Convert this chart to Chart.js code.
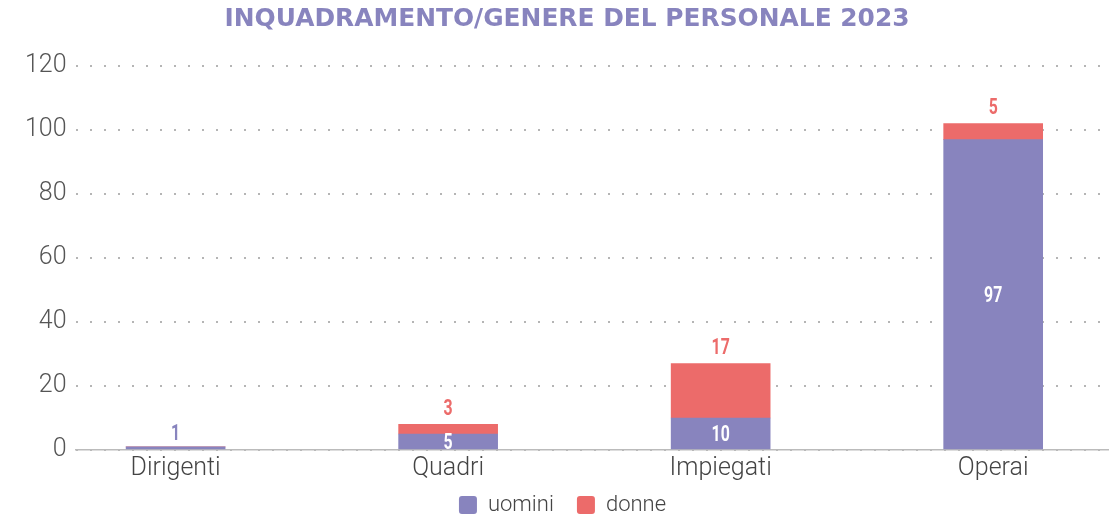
<!DOCTYPE html>
<html>
<head>
<meta charset="utf-8">
<script src="https://cdn.jsdelivr.net/npm/chart.js@4.4.1/dist/chart.umd.min.js"></script>
<style>
  body { margin: 0; background: #fff; }
  #wrap { width: 1109px; height: 514px; }
</style>
</head>
<body>
<div id="wrap"><canvas id="chart"></canvas></div>
<script>
// Inquadramento / genere del personale 2023
const titleText = 'INQUADRAMENTO/GENERE DEL PERSONALE 2023';
const categories = ['Dirigenti', 'Quadri', 'Impiegati', 'Operai'];
const uomini = [1, 5, 10, 97];
const donne = [0, 3, 17, 5];
const yMax = 120;
const yStep = 20;

const purple = '#8884BE';
const red = '#EC6B6A';

// draws the title (blocky, stretched to the width of the original)
const titlePlugin = {
    id: 'bigTitle',
    afterDraw(chart) {
        const ctx = chart.ctx;
        ctx.save();
        ctx.font = 'bold 24px "DejaVu Sans", sans-serif';
        ctx.fillStyle = purple;
        ctx.textAlign = 'center';
        ctx.textBaseline = 'middle';
        const w = ctx.measureText(titleText).width;
        ctx.translate(567, 20);
        ctx.scale(685 / w, 1);
        ctx.fillText(titleText, 0, 0);
        ctx.restore();
    }
};

// value labels on the bars (narrow bold digits)
const valuePlugin = {
    id: 'values',
    afterDatasetsDraw(chart) {
        const ctx = chart.ctx;
        const m0 = chart.getDatasetMeta(0);
        const m1 = chart.getDatasetMeta(1);
        const put = (txt, x, y, color, baseline) => {
            ctx.save();
            ctx.font = 'bold 22px Roboto, sans-serif';
            ctx.fillStyle = color;
            ctx.textAlign = 'center';
            ctx.textBaseline = baseline;
            ctx.translate(x, y);
            ctx.scale(0.72, 1);
            ctx.fillText(txt, 0, 0);
            ctx.restore();
        };
        uomini.forEach((v, i) => {
            const bar = m0.data[i];
            const h = bar.base - bar.y;
            if (h > 14) {
                put(v, bar.x, (bar.y + bar.base) / 2 + 2, '#fff', 'middle');
            } else {
                put(v, bar.x, bar.y - 1, purple, 'bottom');
            }
        });
        donne.forEach((v, i) => {
            if (!v) return;
            const bar = m1.data[i];
            put(v, bar.x, bar.y - 4, red, 'bottom');
        });
    }
};

new Chart(document.getElementById('chart'), {
    type: 'bar',
    data: {
        datasets: [
            {
                label: 'uomini',
                data: uomini.map((v, i) => ({ x: i, y: v })),
                backgroundColor: purple,
                barThickness: 99
            },
            {
                label: 'donne',
                data: donne.map((v, i) => ({ x: i, y: v })),
                backgroundColor: red,
                barThickness: 99
            }
        ]
    },
    options: {
        responsive: true,
        maintainAspectRatio: false,
        animation: false,
        layout: { padding: { top: 66, left: 16, right: 0, bottom: -12 } },
        scales: {
            x: {
                type: 'linear',
                stacked: true,
                offset: false,
                min: -0.367,
                max: 3.425,
                afterBuildTicks: (scale) => {
                    scale.ticks = categories.map((c, i) => ({ value: i }));
                },
                ticks: {
                    callback: (v) => categories[v],
                    color: '#444',
                    padding: 6,
                    autoSkip: false,
                    maxRotation: 0,
                    font: { family: 'Roboto', weight: 300, size: 25, lineHeight: 1 }
                },
                grid: { display: false, drawTicks: false },
                border: { display: true, color: '#bbb', width: 1.5 }
            },
            y: {
                stacked: true,
                min: 0,
                max: yMax,
                ticks: {
                    stepSize: yStep,
                    color: '#555',
                    padding: 9,
                    font: { family: 'Roboto', weight: 300, size: 25 }
                },
                grid: { color: '#b5b5b5', lineWidth: 2, drawTicks: false },
                border: { display: false, dash: [2, 12] }
            }
        },
        plugins: {
            legend: {
                position: 'bottom',
                labels: {
                    boxWidth: 18,
                    boxHeight: 18,
                    useBorderRadius: true,
                    borderRadius: 3,
                    padding: 7,
                    color: '#444',
                    font: { family: 'Roboto', weight: 300, size: 22, lineHeight: 1 },
                    // a bit more room after the first item, like the original
                    generateLabels: (chart) => {
                        const items = Chart.defaults.plugins.legend.labels.generateLabels(chart);
                        items[0].text += '   ';
                        return items;
                    }
                }
            },
            tooltip: { enabled: false }
        }
    },
    plugins: [titlePlugin, valuePlugin]
});
</script>
</body>
</html>
